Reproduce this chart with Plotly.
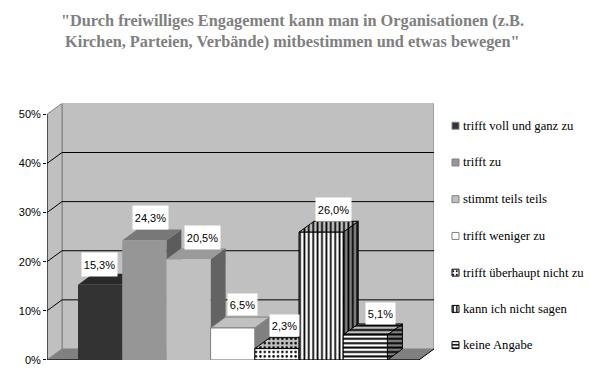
import plotly.graph_objects as go

categories = ["trifft voll und ganz zu", "trifft zu", "stimmt teils teils", "trifft weniger zu",
              "trifft überhaupt nicht zu", "kann ich nicht sagen", "keine Angabe"]
values = [15.3, 24.3, 20.5, 6.5, 2.3, 26.0, 5.1]
labels = ["15,3%", "24,3%", "20,5%", "6,5%", "2,3%", "26,0%", "5,1%"]
y_ticks = [0, 10, 20, 30, 40, 50]
y_tick_labels = ["0%", "10%", "20%", "30%", "40%", "50%"]
title_lines = ['"Durch freiwilliges Engagement kann man in Organisationen (z.B.',
               'Kirchen, Parteien, Verbände) mitbestimmen und etwas bewegen"']

W, H = 598, 392
L, R, T, B = 47, 434, 105, 365.5    # pixel box of the 3-D plot region
UNIT = 44.2                          # px per bar
FIRST = 78                           # px of first bar left
PX_PER_PCT = 4.94
DX = 15 / UNIT                       # depth in x units
DY = 11 / PX_PER_PCT                 # depth in value units
XMIN = (L - FIRST) / UNIT
XMAX = (R - FIRST) / UNIT
FRONT_R = XMAX - DX

styles = [
    dict(front="#333333", top="#292929", side="#1f1f1f", line=None, shape=""),
    dict(front="#969696", top="#787878", side="#5c5c5c", line=None, shape=""),
    dict(front="#c0c0c0", top="#9a9a9a", side="#636363", line=None, shape=""),
    dict(front="#ffffff", top="#c0c0c0", side="#808080", line="#808080", shape=""),
    dict(front="#ffffff", top="#c0c0c0", side="#808080", line="#000000", shape="."),
    dict(front="#ffffff", top="#c0c0c0", side="#808080", line="#000000", shape="|"),
    dict(front="#ffffff", top="#c0c0c0", side="#808080", line="#000000", shape="-"),
]
pattern_solidity = {".": 0.25, "|": 0.4, "-": 0.45}
label_dx = [-0.5, 6, 13.5, 10, 7.5, 12.5, 15.5]
label_dy = [20, 23, 22, 23.5, 23.5, 22.5, 21.5]

fig = go.Figure()


def poly(xs, ys, fill, line=None, shape="", size=4.4, ax="x", ay="y"):
    t = dict(x=xs + xs[:1], y=ys + ys[:1], mode="lines", fill="toself", fillcolor=fill,
             line=dict(color=line or fill, width=1 if line else 0), hoverinfo="skip",
             showlegend=False, xaxis=ax, yaxis=ay)
    if shape:
        t["fillpattern"] = dict(shape=shape, size=size, solidity=pattern_solidity[shape], fgcolor="#000000",
                                bgcolor=fill, fillmode="replace")
    fig.add_trace(go.Scatter(**t))


def seg(xs, ys, color, width=1):
    fig.add_trace(go.Scatter(x=xs, y=ys, mode="lines", line=dict(color=color, width=width),
                             hoverinfo="skip", showlegend=False))


top = y_ticks[-1]
# walls and floor
poly([XMIN + DX, XMAX, XMAX, XMIN + DX], [DY, DY, top + DY, top + DY], "#c0c0c0", "#808080")
poly([XMIN, XMIN + DX, XMIN + DX, XMIN], [0, DY, top + DY, top], "#c0c0c0", "#808080")
poly([XMIN, XMIN + DX, XMAX, FRONT_R], [0, DY, DY, 0], "#808080")
# gridlines
for t in y_ticks[1:-1]:
    seg([XMIN, XMIN + DX, XMAX], [t, t + DY, t + DY], "#000000")
# axes
seg([XMIN, XMIN], [0, top], "#000000")
seg([XMIN, FRONT_R], [0, 0], "#000000")
seg([FRONT_R, FRONT_R + DX], [0, DY], "#000000")

# bars
for i, (v, s) in enumerate(zip(values, styles)):
    x0, x1 = i, i + 1
    p = dict(line=s["line"], shape=s["shape"])
    poly([x1, x1 + DX, x1 + DX, x1], [0, DY, v + DY, v], s["side"], **p)
    poly([x0, x1, x1 + DX, x0 + DX], [v, v, v + DY, v + DY], s["top"], **p)
    poly([x0, x1, x1, x0], [0, 0, v, v], s["front"], **p)

# legend swatches on a full-figure pixel axis
legend_y = [123.5, 160.5, 197.5, 234.5, 271.5, 308, 344.5]
for ly, s in zip(legend_y, styles):
    if s["shape"]:
        poly([452, 459, 459, 452], [ly - 3.5, ly - 3.5, ly + 3.5, ly + 3.5], s["front"], s["line"],
             s["shape"], size=3.5, ax="x2", ay="y2")
    else:
        poly([452, 459, 459, 452], [ly - 3.5, ly - 3.5, ly + 3.5, ly + 3.5], s["front"], "#808080",
             ax="x2", ay="y2")

ann = []
for i, (v, lab) in enumerate(zip(values, labels)):
    wide = len(lab) > 4
    ann.append(dict(x=i + 0.5, y=v, xref="x", yref="y", text=lab, showarrow=False, xanchor="center",
                    yanchor="middle", xshift=label_dx[i], yshift=label_dy[i], bgcolor="#ffffff",
                    width=35 if wide else 29, height=23 if wide else 21, borderpad=0,
                    font=dict(family="Liberation Sans", size=11, color="#000000")))
for ly, c in zip(legend_y, categories):
    ann.append(dict(x=463, y=ly, xref="x2", yref="y2", text=c, showarrow=False, xanchor="left",
                    yanchor="middle", xshift=-2, font=dict(family="Liberation Serif", size=12.7, color="#000000")))
for ly, line in zip([17.5, 38.5], title_lines):
    ann.append(dict(x=292.5, y=ly, xref="x2", yref="y2", text="<b>" + line + "</b>", showarrow=False,
                    xanchor="center", yanchor="middle",
                    font=dict(family="Liberation Serif", size=16.3, color="#808080")))

fig.update_layout(
    width=W, height=H, margin=dict(l=0, r=0, t=0, b=0), autosize=False,
    paper_bgcolor="#ffffff", plot_bgcolor="rgba(0,0,0,0)", showlegend=False,
    xaxis=dict(domain=[L / W, R / W], range=[XMIN, XMAX], visible=False, fixedrange=True),
    yaxis=dict(domain=[(H - B) / H, (H - T) / H], range=[0, top + DY], tickvals=y_ticks,
               ticktext=y_tick_labels, ticks="outside", ticklen=3, tickcolor="#000000", tickwidth=1,
               showgrid=False, zeroline=False, showline=False, anchor="x",
               tickfont=dict(family="Liberation Sans", size=11, color="#000000"), fixedrange=True),
    xaxis2=dict(domain=[0, 1], range=[0, W], visible=False, anchor="y2", fixedrange=True),
    yaxis2=dict(domain=[0, 1], range=[385.7, -3.2], visible=False, anchor="x2", fixedrange=True),
    annotations=ann,
)
fig.write_html("out.html", config=dict(displayModeBar=False), post_script="document.body.style.margin='0';")
